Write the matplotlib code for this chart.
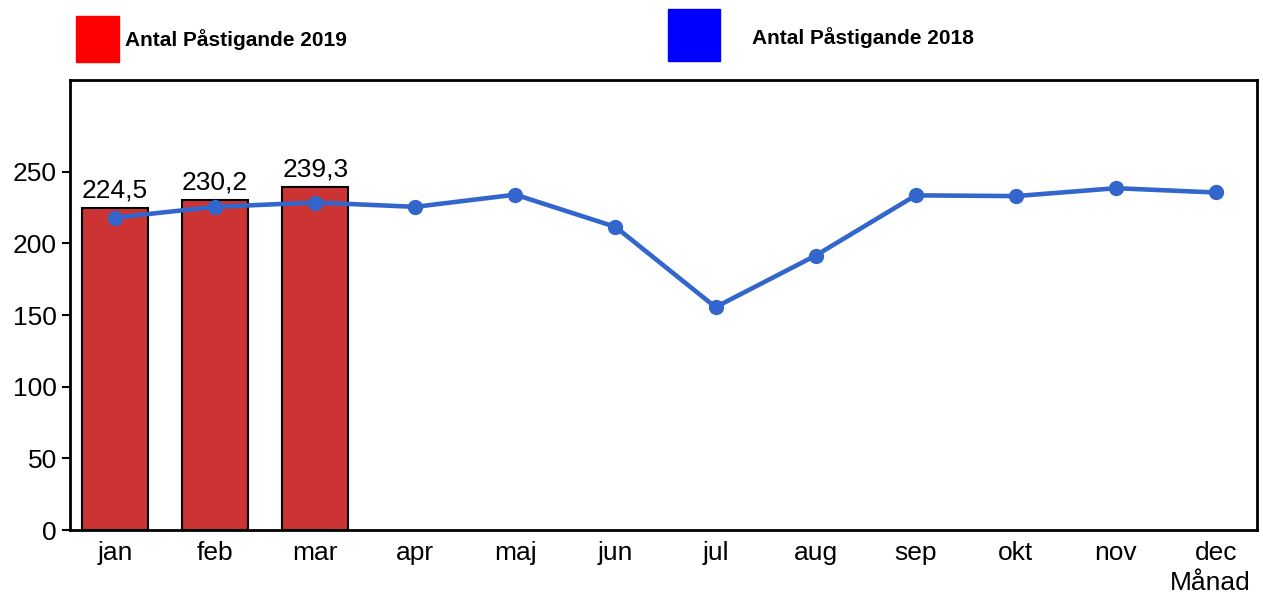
import matplotlib.pyplot as plt
from matplotlib.patches import Rectangle

plt.rcParams['font.family'] = ['Liberation Sans', 'DejaVu Sans']

months = ["jan", "feb", "mar", "apr", "maj", "jun", "jul", "aug", "sep", "okt", "nov", "dec"]
pass_2019 = [224.5, 230.2, 239.3]
pass_2018 = [218, 225.5, 228.5, 225.5, 234, 211.5, 155.5, 191.5, 233.5, 233, 238.5, 235.5]
bar_labels = ["224,5", "230,2", "239,3"]

fig = plt.figure(figsize=(12.63, 5.94), dpi=100)
ax = fig.add_axes([70/1263, 64/594, 1187/1263, 450/594])

x19 = list(range(len(pass_2019)))
x18 = list(range(len(pass_2018)))
bars = ax.bar(x19, pass_2019, width=0.66, color="#CC3333", edgecolor="black", linewidth=1.5, zorder=2)
for b, lab in zip(bars, bar_labels):
    ax.text(b.get_x() + b.get_width()/2, b.get_height() + 4, lab, ha="center", va="bottom", fontsize=19)
ax.plot(x18, pass_2018, color="#3366CC", linewidth=3.3, marker="o", markersize=10, zorder=3)

ax.set_xlim(-0.45, 11.41)
ax.set_ylim(0, 314)
ax.set_yticks([0, 50, 100, 150, 200, 250])
ax.set_xticks(x18)
ax.set_xticklabels(months)
ax.tick_params(axis="y", labelsize=19, length=6, width=1.5, direction="out")
ax.tick_params(axis="x", labelsize=19, length=0, pad=8)
for s in ax.spines.values():
    s.set_linewidth(2)

fig.text(1210/1263, 1 - 583/594, "Månad", ha="center", va="center", fontsize=19)

# legend drawn in figure coordinates
fig.patches.append(Rectangle((76/1263, 1 - 62/594), 43/1263, 46/594, transform=fig.transFigure, color="#FF0000"))
fig.text(125/1263, 1 - 40/594, "Antal Påstigande 2019", fontsize=15, fontweight="bold", va="center")
fig.patches.append(Rectangle((668/1263, 1 - 61/594), 52/1263, 52/594, transform=fig.transFigure, color="#0000FF"))
fig.text(752/1263, 1 - 38/594, "Antal Påstigande 2018", fontsize=15, fontweight="bold", va="center")

fig.savefig("out.png", dpi=100)
